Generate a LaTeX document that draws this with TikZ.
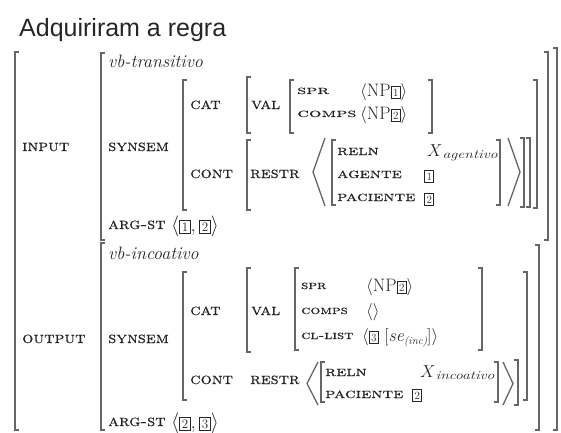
\documentclass[tikz,border=0pt]{standalone}
\usepackage{fontspec}
\newfontfamily\titlefont{Liberation Sans}
\newfontfamily\capsfont[FakeBold=0.5]{lmromancaps10-regular.otf}
\newcommand\Lb[3]{\draw[brk] ({#1+4},#2) -- (#1,#2) -- (#1,#3) -- ({#1+4},#3);}
\newcommand\Rb[3]{\draw[brk] ({#1-4},#2) -- (#1,#2) -- (#1,#3) -- ({#1-4},#3);}
\newcommand\Ang[4]{\draw[brk] (#2,#3) -- (#1,{(#3+#4)/2}) -- (#2,#4);}
\newcommand\tg[1]{{\setlength{\fboxsep}{1.6pt}\setlength{\fboxrule}{0.7pt}\fbox{\fontsize{11}{11}\selectfont #1}}}
\newcommand\tgB[1]{{\setlength{\fboxsep}{1.8pt}\setlength{\fboxrule}{0.7pt}\fbox{\fontsize{13}{13}\selectfont #1}}}
\newcommand\labA[1]{\scalebox{1.1}[1]{\capsfont\fontsize{16}{16}\selectfont #1}}
\newcommand\labB[2]{\scalebox{#1}[1]{\capsfont\fontsize{12}{12}\selectfont #2}}
\newcommand\labC[1]{\scalebox{1.3}[1]{\capsfont\fontsize{14}{14}\selectfont #1}}
\newcommand\subx[1]{\raisebox{-2.5pt}{\scalebox{1.3}[1]{\fontsize{12}{12}\selectfont\itshape #1}}}
\begin{document}
\begin{tikzpicture}[x=1pt,y=-1pt,
  brk/.style={line width=1.3pt, draw=black!60},
  lab/.style={anchor=base west, inner sep=0pt, text=black!85},
  val/.style={anchor=base west, inner sep=0pt, text=black!85, font=\fontsize{18}{18}\selectfont},
  typ/.style={anchor=base west, inner sep=0pt, text=black!85, font=\fontsize{18}{18}\selectfont\itshape},
]
\useasboundingbox (0,0) rectangle (561,432);
\node[anchor=base west, inner sep=0pt, font=\titlefont\fontsize{25}{25}\selectfont, text=black!85] (title) at (19,36) {Adquiriram a regra};

% outer
\Lb{15}{52}{430}
\Rb{557}{48}{430}

% ---------- INPUT ----------
\Lb{101}{53}{240}
\Rb{548}{52}{240}
\node[typ] (vbt) at (108,67) {vb-transitivo};
\node[lab] (input) at (22,151) {\labA{input}};
\node[lab] (syn1) at (108,151) {\labA{synsem}};
\Lb{183}{80}{210}
\Rb{537}{80}{208}
\node[lab] (cat1) at (190,109) {\labA{cat}};
\Lb{247}{77}{133}
\node[lab] (val1) at (251,109) {\labA{val}};
\Lb{290}{80}{133}
\Rb{432}{80}{133}
\node[lab] (spr1) at (297,94) {\labB{1.65}{spr}};
\node[val] (sprv1) at (360,96) {$\langle$NP\tg{1}$\rangle$};
\node[lab] (comps1) at (297,117) {\labB{1.65}{comps}};
\node[val] (compsv1) at (360,119) {$\langle$NP\tg{2}$\rangle$};
\node[lab] (cont1) at (190,178) {\labA{cont}};
\Lb{247}{140}{210}
\node[lab] (restr1) at (250,178) {\labA{restr}};
\Ang{313}{325}{138}{206}
\Lb{332}{140}{205}
\node[lab] (reln1) at (337,155) {\labC{reln}};
\node[val] (x1) at (427,156) {$X$\subx{agentivo}};
\node[lab] (ag1) at (337,178) {\labC{agente}};
\node[val] (ag1v) at (424,180) {\tg{1}};
\node[lab] (pac1) at (337,201) {\labC{paciente}};
\node[val] (pac1v) at (424,203) {\tg{2}};
\Rb{500}{140}{205}
\Ang{520}{508}{138}{206}
\Rb{524}{138}{207}
\Rb{530}{138}{207}
\node[lab] (arg1) at (108,229) {\labA{arg-st}};
\node[val] (arg1v) at (171,231) {\fontsize{21}{21}\selectfont$\langle$\tgB{1},\,\tgB{2}$\rangle$};

% ---------- OUTPUT ----------
\Lb{101}{243}{430}
\Rb{539}{245}{430}
\node[typ] (vbi) at (108,259) {vb-incoativo};
\node[lab] (output) at (22,343) {\labA{output}};
\node[lab] (syn2) at (108,343) {\labA{synsem}};
\Lb{183}{272}{400}
\Rb{527}{272}{400}
\node[lab] (cat2) at (190,315) {\labA{cat}};
\Lb{247}{268}{352}
\node[lab] (val2) at (251,315) {\labA{val}};
\Lb{295}{268}{350}
\Rb{482}{268}{350}
\node[lab] (spr2) at (301,289) {\labB{1.3}{spr}};
\node[val] (sprv2) at (366,291) {$\langle$NP\tg{2}$\rangle$};
\node[lab] (comps2) at (301,314) {\labB{1.3}{comps}};
\node[val] (compsv2) at (366,316) {$\langle\rangle$};
\node[lab] (cl2) at (301,339) {\labB{1.3}{cl-list}};
\node[val] (clv2) at (362,341) {$\langle$\tg{3} $\bigl[$\textit{se}\raisebox{-3pt}{\fontsize{11}{11}\selectfont\itshape (inc)}$\bigr]\rangle$};
\node[lab] (cont2) at (190,384) {\labA{cont}};
\node[lab] (restr2) at (250,384) {\labA{restr}};
\Ang{307}{318}{362}{405}
\Lb{321}{362}{402}
\node[lab] (reln2) at (325,376) {\labC{reln}};
\node[val] (x2) at (420,377) {$X$\subx{incoativo}};
\node[lab] (pac2) at (325,398) {\labC{paciente}};
\node[val] (pac2v) at (412,399) {\tg{2}};
\Rb{498}{362}{402}
\Ang{513}{503}{362}{405}
\Rb{518}{360}{405}
\node[lab] (arg2) at (108,426) {\labA{arg-st}};
\node[val] (arg2v) at (171,428) {\fontsize{21}{21}\selectfont$\langle$\tgB{2},\,\tgB{3}$\rangle$};
\end{tikzpicture}
\end{document}
